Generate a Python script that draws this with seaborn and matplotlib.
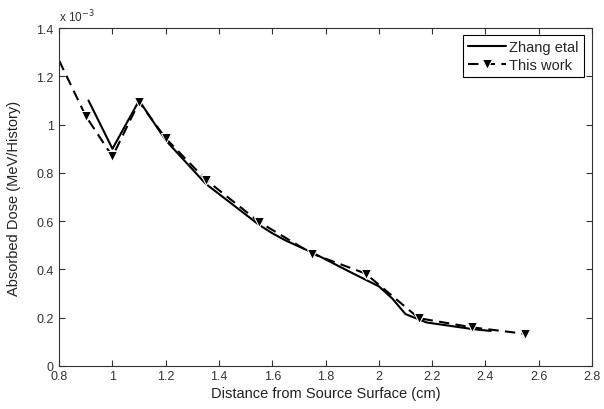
import pandas as pd
import matplotlib.pyplot as plt
import seaborn as sns

# Data (dose in units of 1e-3 MeV/History)
zhang_x = [0.91, 1.0, 1.1, 1.2, 1.35, 1.55, 1.6, 1.65, 1.75, 1.9, 2.0, 2.05, 2.1, 2.18, 2.35, 2.42]
zhang_y = [1.10, 0.90, 1.10, 0.935, 0.755, 0.585, 0.55, 0.52, 0.47, 0.385, 0.33, 0.28, 0.215, 0.18, 0.153, 0.145]

work_x = [0.8, 0.9, 1.0, 1.1, 1.2, 1.35, 1.55, 1.75, 1.95, 2.15, 2.35, 2.55]
work_y = [1.265, 1.035, 0.868, 1.094, 0.943, 0.772, 0.597, 0.465, 0.383, 0.198, 0.16, 0.133]

zhang = pd.DataFrame({"x": zhang_x, "y": zhang_y})
work = pd.DataFrame({"x": work_x, "y": work_y})

sns.set_style("ticks")
plt.rcParams["font.family"] = ["Liberation Sans", "DejaVu Sans"]

fig = plt.figure(figsize=(6.04, 4.10), dpi=100)
ax = fig.add_axes([0.098, 0.105, 0.882, 0.824])

sns.lineplot(data=zhang, x="x", y="y", ax=ax, color="black", linewidth=1.5,
             label="Zhang etal", sort=False)
sns.lineplot(data=work, x="x", y="y", ax=ax, color="black", linewidth=1.5,
             linestyle=(0, (5, 3)), marker="v", markersize=7.5,
             markevery=list(range(1, len(work_x))), label="This work", sort=False)

ax.set_xlim(0.8, 2.8)
ax.set_ylim(0, 1.4)
ax.set_xticks([0.8, 1, 1.2, 1.4, 1.6, 1.8, 2, 2.2, 2.4, 2.6, 2.8])
ax.set_xticklabels(["0.8", "1", "1.2", "1.4", "1.6", "1.8", "2", "2.2", "2.4", "2.6", "2.8"])
ax.set_yticks([0, 0.2, 0.4, 0.6, 0.8, 1.0, 1.2, 1.4])
ax.set_yticklabels(["0", "0.2", "0.4", "0.6", "0.8", "1", "1.2", "1.4"])
ax.tick_params(direction="in", top=True, right=True, length=4, width=0.8,
               labelsize=9, colors="#333333", pad=3)
ax.tick_params(axis="y", pad=4)
for s in ax.spines.values():
    s.set_visible(True)
    s.set_color("#333333")
    s.set_linewidth(0.8)

ax.set_xlabel("Distance from Source Surface (cm)", fontsize=10.5, color="#222222", labelpad=3)
ax.set_ylabel("Absorbed Dose (MeV/History)", fontsize=10.5, color="#222222", labelpad=11)
ax.text(0.0, 1.012, r"x 10$^{-3}$", transform=ax.transAxes, fontsize=8.5,
        color="#333333", ha="left", va="bottom")

leg = ax.legend(loc="upper right", bbox_to_anchor=(0.985, 0.98), fontsize=10.5,
                frameon=True, fancybox=False, framealpha=1, edgecolor="black",
                handlelength=2.6, handletextpad=0.2, borderpad=0.35,
                labelspacing=0.3, borderaxespad=0)
leg.get_frame().set_linewidth(0.8)

plt.savefig("out.png", dpi=100)
